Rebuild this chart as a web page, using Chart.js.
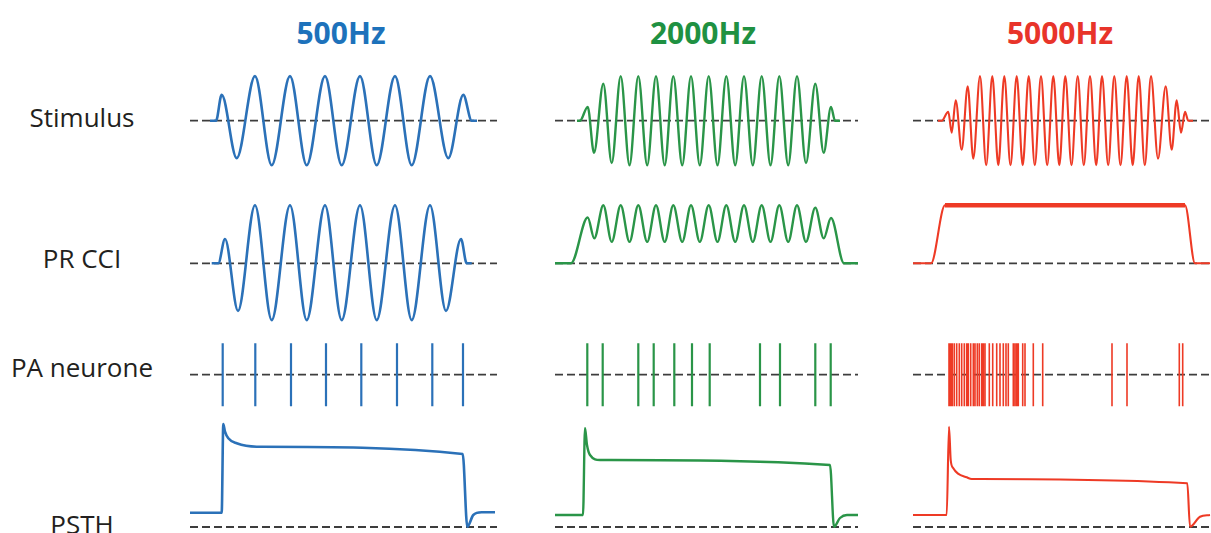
<!DOCTYPE html>
<html>
<head>
<meta charset="utf-8">
<script src="https://cdn.jsdelivr.net/npm/chart.js@4.4.1/dist/chart.umd.min.js"></script>
<style>
  body { margin: 0; background: #fff; width: 1211px; height: 533px; overflow: hidden; position: relative; font-family: "Open Sans", sans-serif; }
  canvas { position: absolute; }
  .rowlbl { position: absolute; left: 0; width: 164px; text-align: center; font-size: 26px; line-height: 26px; color: #231f20; white-space: nowrap; }
  .coltitle { position: absolute; width: 200px; text-align: center; font-size: 30px; line-height: 30px; font-weight: bold; white-space: nowrap; }
</style>
</head>
<body>
<script>
// titles and labels
const colTitles = ['500Hz', '2000Hz', '5000Hz'];
const rowLabels = ['Stimulus', 'PR CCI', 'PA neurone', 'PSTH'];

// x values are time units (1 unit = 1 px from the left end of each column's baseline)
// --- 500Hz ---
const stim500X = [20, 26, 31.7, 46.7, 65, 81.7, 100, 116.7, 135, 151.7, 170, 186.7, 205, 221.7, 240, 258.3, 273.3, 281.7, 287];
const stim500Y = [0, 0, 0.58, -0.84, 1, -1, 1, -1, 1, -1, 1, -1, 1, -1, 1, -0.84, 0.58, 0, 0];
const cci500X = [21.7, 28.3, 35, 48, 65, 81.7, 100, 116.7, 135, 151.7, 170, 186.7, 205, 221.7, 240, 256, 271, 276.7, 281.7];
const cci500Y = [0, 0, 0.42, -0.82, 1, -0.98, 1, -0.98, 1, -0.98, 1, -0.98, 1, -0.98, 1, -0.82, 0.42, 0, 0];
const spikes500 = [32.7, 65.3, 101, 136, 171.3, 207, 242.3, 273];
const psth500X = [0, 31.7, 33.3, 35, 38.3, 46.7, 66.7, 272.7, 277.3, 283.3, 291.7, 305];
const psth500Y = [14.3, 14.3, 103, 95.3, 88.7, 83.7, 80.3, 73, 0.3, 12, 14.7, 14.7];

// --- 2000Hz ---
const stim2000X = [22, 25, 32.7, 39, 48.3, 56.7, 65.7, 74.5, 83.3, 92.2, 101, 109.7, 118.3, 127.2, 136, 144.8, 153.7, 162.5, 171.3, 180.2, 189, 197.8, 206.7, 215.5, 224.3, 233.2, 242, 251, 260.3, 268.7, 276, 280, 285];
const stim2000Y = [0, 0, 0.31, -0.72, 0.83, -0.95, 1, -1, 1, -1, 1, -1, 1, -1, 1, -1, 1, -1, 1, -1, 1, -1, 1, -1, 1, -1, 1, -0.95, 0.83, -0.72, 0.31, 0, 0];
const cci2000X = [0, 16, 32.7, 39.3, 48.3, 56.7, 65.7, 74.5, 83.3, 92.2, 101, 109.7, 118.3, 127.2, 136, 144.8, 153.7, 162.5, 171.3, 180.2, 189, 197.8, 206.7, 215.5, 224.3, 233.2, 242, 251, 260.3, 268.7, 276, 289, 303];
const cci2000Y = [0, 0, 0.79, 0.43, 1, 0.37, 1, 0.37, 1, 0.37, 1, 0.37, 1, 0.37, 1, 0.37, 1, 0.37, 1, 0.37, 1, 0.37, 1, 0.37, 1, 0.37, 1, 0.37, 0.96, 0.43, 0.78, 0, 0];
const spikes2000 = [32.3, 47.7, 83.3, 98.7, 119.3, 137, 154.7, 205, 225, 260.3, 275.7];
const psth2000X = [0, 28, 30, 32, 35, 45, 275, 279, 285, 292, 303];
const psth2000Y = [12, 12, 99, 82, 72, 67, 62, 0.3, 9, 12, 12];

// --- 5000Hz ---
const stim5000X = [25, 28.7, 35.3, 38.7, 42.7, 48.7, 54.7, 60.3, 67, 73.2, 79.3, 85.3, 91.3, 97.5, 103.7, 109.7, 115.7, 121.8, 128, 134.2, 140.3, 146.3, 152.3, 158.5, 164.7, 170.8, 177, 183.2, 189, 195.2, 201.3, 207.5, 213.7, 219.7, 225.7, 231.8, 238, 245, 252.7, 258.7, 263.7, 268, 272, 275.3, 280];
const stim5000Y = [0, 0, 0.2, -0.27, 0.46, -0.65, 0.77, -0.85, 1, -1, 1, -1, 1, -1, 1, -1, 1, -1, 1, -1, 1, -1, 1, -1, 1, -1, 1, -1, 1, -1, 1, -1, 1, -1, 1, -1, 1, -0.85, 0.77, -0.65, 0.46, -0.27, 0.2, 0, 0];
const cci5000X = [0, 18, 32, 272, 282, 297];
const cci5000Y = [0, 0, 1, 1, 0, 0];
const spikes5000 = [36, 37, 38, 39.3, 41.3, 43.7, 46.3, 48.7, 51.3, 53.7, 55.3, 57.7, 60.3, 62, 64.3, 66.3, 68.7, 70.3, 72, 76.3, 79.7, 83.7, 87, 90.3, 93, 95.3, 100.3, 102, 103.7, 105.3, 109.7, 112, 120.3, 129.7, 199, 214, 266.3, 269.7];
const psth5000X = [0, 33.7, 36, 37.7, 40.3, 45, 53.7, 58.7, 274.3, 277, 287, 297];
const psth5000Y = [12, 12, 100.3, 67, 58.7, 53.3, 49.7, 48, 43.7, 0.3, 10.3, 12];

// layout
const colLeft = [190, 555, 913];
const colWidth = [307, 303, 298];
const colCenter = [341, 703, 1060];
const colColor = ['#2b71b8', '#2a9548', '#ee3a25'];
const titleColor = ['#1d72bb', '#1f9142', '#e8342a'];
const rows = [
  { base: 120.7, unit: 44.6, up: 60, down: 60 },
  { base: 263.3, unit: 58, up: 62, down: 62 },
  { base: 374.7, unit: 31.5, up: 36, down: 36 },
  { base: 527, unit: 1, up: 112, down: 6 }
];
const rowLabelTop = [103.5, 245, 353.5, 511];

function pts(xs, ys) { return xs.map((x, i) => ({ x: x, y: ys[i] })); }
function spikePts(xs) {
  const out = [];
  xs.forEach(x => { out.push({ x: x, y: -1 }, { x: x, y: 1 }, { x: x, y: null }); });
  return out;
}

function panel(col, row, datasets) {
  const W = colWidth[col], r = rows[row];
  const top = Math.floor(r.base - r.up), bottom = Math.ceil(r.base + r.down);
  const cv = document.createElement('canvas');
  cv.width = W; cv.height = bottom - top;
  cv.style.left = colLeft[col] + 'px';
  cv.style.top = top + 'px';
  document.body.appendChild(cv);
  // dashed zero line, drawn under the traces
  datasets.push({
    data: [{ x: 0, y: 0 }, { x: W, y: 0 }],
    borderColor: '#3d3d3d', borderWidth: 1.8, borderDash: [8, 4], tension: 0
  });
  new Chart(cv, {
    type: 'line',
    data: { datasets: datasets },
    options: {
      animation: false, responsive: false, devicePixelRatio: 1, events: [],
      layout: { padding: 0 },
      plugins: { legend: { display: false }, tooltip: { enabled: false } },
      elements: { point: { radius: 0 } },
      scales: {
        x: { type: 'linear', display: false, min: 0, max: W },
        y: { type: 'linear', display: false, min: -(bottom - r.base) / r.unit, max: (r.base - top) / r.unit }
      }
    }
  });
}

function curve(xs, ys, col, w) {
  return { data: pts(xs, ys), borderColor: colColor[col], borderWidth: w, cubicInterpolationMode: 'monotone' };
}
function spikes(xs, col, w) {
  return { data: spikePts(xs), borderColor: colColor[col], borderWidth: w, tension: 0, spanGaps: false };
}

const stimX = [stim500X, stim2000X, stim5000X], stimY = [stim500Y, stim2000Y, stim5000Y];
const cciX = [cci500X, cci2000X, cci5000X], cciY = [cci500Y, cci2000Y, cci5000Y];
const spk = [spikes500, spikes2000, spikes5000];
const psthX = [psth500X, psth2000X, psth5000X], psthY = [psth500Y, psth2000Y, psth5000Y];
const lw = [2.6, 2.4, 2.1];

for (let c = 0; c < 3; c++) {
  panel(c, 0, [curve(stimX[c], stimY[c], c, lw[c])]);
  const cci = [curve(cciX[c], cciY[c], c, lw[c])];
  if (c === 2) {
    // rippled plateau of the 5000Hz PR CCI
    cci.unshift({ data: pts(cci5000X.slice(2, 4), cci5000Y.slice(2, 4)), borderColor: colColor[c], borderWidth: 4.5, tension: 0 });
  }
  panel(c, 1, cci);
  panel(c, 2, [spikes(spk[c], c, c === 2 ? 1.6 : 2.2)]);
  panel(c, 3, [curve(psthX[c], psthY[c], c, lw[c])]);

  const t = document.createElement('div');
  t.className = 'coltitle';
  t.textContent = colTitles[c];
  t.style.left = (colCenter[c] - 100) + 'px';
  t.style.top = '18px';
  t.style.color = titleColor[c];
  document.body.appendChild(t);
}

rowLabels.forEach((s, i) => {
  const d = document.createElement('div');
  d.className = 'rowlbl';
  d.textContent = s;
  d.style.top = rowLabelTop[i] + 'px';
  document.body.appendChild(d);
});
</script>
</body>
</html>
